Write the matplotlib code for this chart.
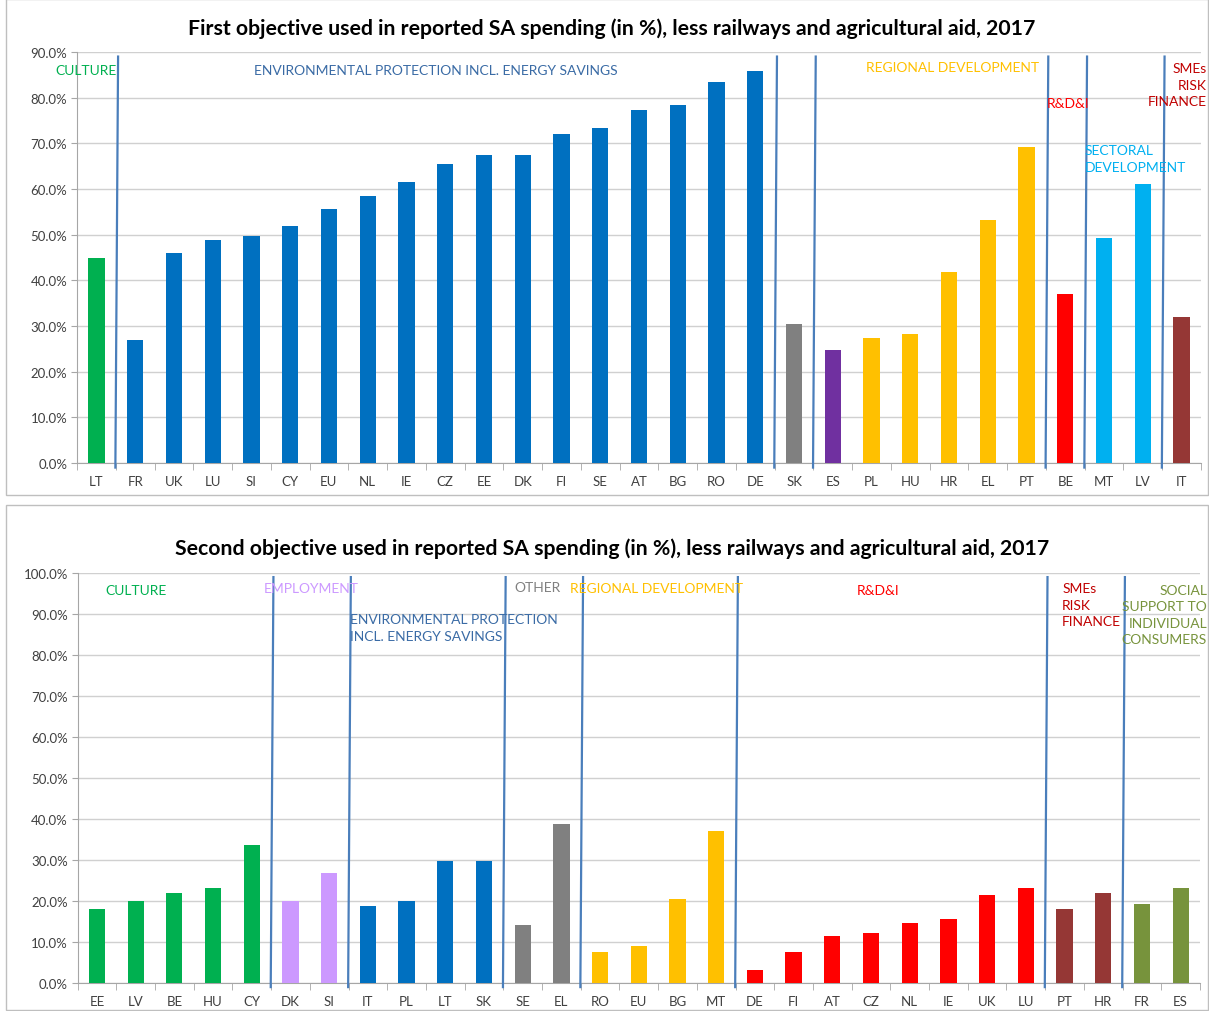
import matplotlib.pyplot as plt
from matplotlib.patches import Rectangle
from matplotlib.ticker import FuncFormatter, FixedLocator

plt.rcParams['font.family'] = ['Lato', 'DejaVu Sans']

# ---- data: first objective ----
cats1 = ["LT", "FR", "UK", "LU", "SI", "CY", "EU", "NL", "IE", "CZ", "EE", "DK", "FI", "SE",
         "AT", "BG", "RO", "DE", "SK", "ES", "PL", "HU", "HR", "EL", "PT", "BE", "MT", "LV", "IT"]
vals1 = [44.9, 26.9, 45.9, 48.8, 49.7, 52.0, 55.6, 58.5, 61.5, 65.5, 67.4, 67.4, 72.0, 73.4,
         77.2, 78.3, 83.4, 85.8, 30.4, 24.7, 27.4, 28.2, 41.8, 53.3, 69.2, 37.1, 49.2, 61.2, 31.9]
grp1 = ["cult"] + ["env"] * 17 + ["oth", "emp1"] + ["reg"] * 5 + ["rdi", "sec", "sec", "sme"]

# ---- data: second objective ----
cats2 = ["EE", "LV", "BE", "HU", "CY", "DK", "SI", "IT", "PL", "LT", "SK", "SE", "EL", "RO",
         "EU", "BG", "MT", "DE", "FI", "AT", "CZ", "NL", "IE", "UK", "LU", "PT", "HR", "FR", "ES"]
vals2 = [18.1, 20.0, 22.0, 23.2, 33.7, 20.0, 26.9, 18.9, 20.0, 29.7, 29.7, 14.1, 38.8, 7.5,
         9.0, 20.5, 37.0, 3.2, 7.6, 11.4, 12.3, 14.6, 15.6, 21.4, 23.2, 18.0, 21.9, 19.2, 23.1]
grp2 = (["cult"] * 5 + ["emp"] * 2 + ["env"] * 4 + ["oth"] * 2 + ["reg"] * 4 + ["rdi"] * 8
        + ["sme"] * 2 + ["soc"] * 2)

colors = {"cult": "#00B050", "env": "#0070C0", "oth": "#808080", "emp1": "#7030A0",
          "emp": "#CC99FF", "reg": "#FFC000", "rdi": "#FF0000", "sec": "#00B0F0",
          "sme": "#953735", "soc": "#77933C"}
sep_col = "#4A7EBB"

W, H = 1209, 1012
fig = plt.figure(figsize=(W / 100, H / 100), dpi=100)

# panel borders
fig.patches.append(Rectangle((6 / W, (H - 496) / H), (W - 7) / W, 496 / H, transform=fig.transFigure,
                             fill=False, ec="#BFBFBF", lw=1))
fig.patches.append(Rectangle((6 / W, 1 / H), (W - 7) / W, (H - 507) / H, transform=fig.transFigure,
                             fill=False, ec="#BFBFBF", lw=1))


def draw(ax, cats, vals, grp, ymax, seps, sep_top, sep_bot):
    n = len(cats)
    x = list(range(n))
    ax.bar(x, vals, width=0.42, color=[colors[g] for g in grp], zorder=3)
    ax.set_xlim(-0.5, n - 0.5)
    ax.set_ylim(0, ymax)
    ax.set_yticks(range(0, ymax + 1, 10))
    ax.yaxis.set_major_formatter(FuncFormatter(lambda v, p: "%.1f%%" % v))
    ax.grid(axis="y", color="#D0D0D0", lw=1, zorder=0)
    ax.set_xticks(x)
    ax.set_xticklabels(cats)
    ax.xaxis.set_minor_locator(FixedLocator([i - 0.5 for i in range(n + 1)]))
    ax.tick_params(axis="x", which="major", length=0, pad=9, labelsize=9.5, labelcolor="#404040")
    ax.tick_params(axis="x", which="minor", length=5, color="#A6A6A6")
    ax.tick_params(axis="y", length=4, color="#A6A6A6", labelsize=9.5, labelcolor="#404040", pad=3)
    for s in ["top", "right"]:
        ax.spines[s].set_visible(False)
    ax.spines["left"].set_color("#A6A6A6")
    ax.spines["bottom"].set_color("#A6A6A6")
    for b in seps:
        ax.plot([b + 0.06, b - 0.01], [sep_top, sep_bot], color=sep_col, lw=1.6,
                clip_on=False, zorder=4)


# ---- top chart ----
ax1 = fig.add_axes([77 / W, (H - 464) / H, 1124 / W, 411 / H])
draw(ax1, cats1, vals1, grp1, 90, [0.5, 17.5, 18.5, 24.5, 25.5, 27.5], 89.0, -1.0)
fig.text(612 / W, 1 - 29 / H,
         "First objective used in reported SA spending (in %), less railways and agricultural aid, 2017",
         ha="center", va="center", fontsize=15.3, fontweight="bold", color="#000000")
kw = dict(fontsize=10, va="center", clip_on=False, zorder=5)
ax1.text(0.53, 86.0, "CULTURE", ha="right", color="#00B050", **kw)
ax1.text(8.76, 86.0, "ENVIRONMENTAL PROTECTION INCL. ENERGY SAVINGS", ha="center", color="#3A6BA5", **kw)
ax1.text(22.1, 86.7, "REGIONAL DEVELOPMENT", ha="center", color="#FFC000", **kw)
ax1.text(24.53, 78.8, "R&D&I", ha="left", color="#FF0000", **kw)
ax1.text(25.5, 66.7, "SECTORAL\nDEVELOPMENT", ha="left", color="#00B0F0", linespacing=1.45, **kw)
ax1.text(28.65, 82.8, "SMEs\nRISK\nFINANCE", ha="right", multialignment="right",
         color="#C00000", linespacing=1.45, **kw)

# ---- bottom chart ----
ax2 = fig.add_axes([77.6 / W, 28 / H, 1122.4 / W, 410 / H])
draw(ax2, cats2, vals2, grp2, 100, [4.5, 6.5, 10.5, 12.5, 16.5, 24.5, 26.5], 99.0, -1.0)
fig.text(612 / W, 1 - 549 / H,
         "Second objective used in reported SA spending (in %), less railways and agricultural aid, 2017",
         ha="center", va="center", fontsize=15.3, fontweight="bold", color="#000000")
ax2.text(1.01, 95.9, "CULTURE", ha="center", color="#00B050", **kw)
ax2.text(5.53, 96.3, "EMPLOYMENT", ha="center", color="#CC99FF", **kw)
ax2.text(6.54, 86.7, "ENVIRONMENTAL PROTECTION\nINCL. ENERGY SAVINGS", ha="left", color="#3A6BA5",
         linespacing=1.45, **kw)
ax2.text(11.37, 96.6, "OTHER", ha="center", color="#808080", **kw)
ax2.text(14.47, 96.3, "REGIONAL DEVELOPMENT", ha="center", color="#FFC000", **kw)
ax2.text(20.18, 95.9, "R&D&I", ha="center", color="#FF0000", **kw)
ax2.text(24.94, 92.2, "SMEs\nRISK\nFINANCE", ha="left", color="#C00000", linespacing=1.45, **kw)
ax2.text(28.68, 89.9, "SOCIAL\nSUPPORT TO\nINDIVIDUAL\nCONSUMERS", ha="right", multialignment="right",
         color="#77933C", linespacing=1.45, **kw)

fig.savefig("out.png", dpi=100)
